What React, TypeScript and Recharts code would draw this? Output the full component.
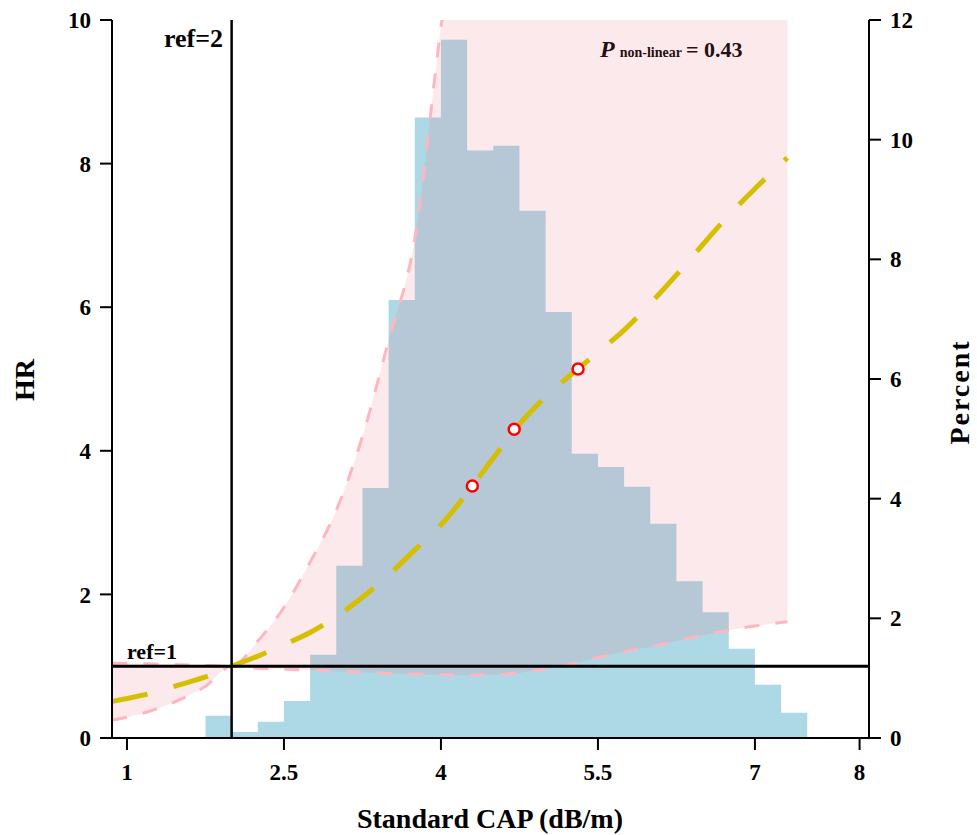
import React from "react";
import {
  Area,
  ComposedChart,
  Line,
  ReferenceLine,
  Scatter,
  XAxis,
  YAxis,
} from "recharts";

// histogram: bin edges (CAP) and percent per bin
const binEdges = [
  1.75, 2.0, 2.25, 2.5, 2.75, 3.0, 3.25, 3.5, 3.75, 4.0, 4.25, 4.5, 4.75, 5.0,
  5.25, 5.5, 5.75, 6.0, 6.25, 6.5, 6.75, 7.0, 7.25, 7.5,
];
const binPercent = [
  0.37, 0.1, 0.27, 0.62, 1.39, 2.88, 4.18, 7.32, 10.37, 11.67, 9.82, 9.9, 8.81,
  7.12, 4.75, 4.53, 4.2, 3.58, 2.62, 2.1, 1.49, 0.89, 0.42,
];

// spline fit with 95% CI
const curveX = [
  0.86, 1.0, 1.25, 1.5, 1.75, 2.0, 2.25, 2.5, 2.75, 3.0, 3.25, 3.5, 3.75, 4.0,
  4.25, 4.5, 4.75, 5.0, 5.25, 5.5, 5.75, 6.0, 6.25, 6.5, 6.75, 7.0, 7.31,
];
const hrFit = [
  0.51, 0.55, 0.63, 0.74, 0.85, 1.0, 1.14, 1.3, 1.47, 1.69, 1.96, 2.27, 2.62,
  2.97, 3.41, 3.9, 4.37, 4.75, 5.07, 5.37, 5.68, 6.05, 6.45, 6.87, 7.28, 7.65,
  8.08,
];
const hrLower = [
  0.25, 0.29, 0.39, 0.53, 0.72, 1.0, 0.97, 0.96, 0.945, 0.93, 0.915, 0.9, 0.89,
  0.88, 0.875, 0.88, 0.91, 0.96, 1.03, 1.12, 1.2, 1.27, 1.35, 1.43, 1.5, 1.56,
  1.62,
];
const hrUpper = [
  1.04, 1.04, 1.03, 1.02, 1.01, 1.0, 1.35, 1.82, 2.45, 3.17, 4.2, 5.54, 6.95,
  9.9, 12.5, 16, 19, 22, 25, 28, 31, 34, 37, 40, 43, 46, 50,
];

// knots
const knotX = [4.3, 4.7, 5.31];
const knotHR = [3.51, 4.3, 5.14];

const hrTicks = [0, 2, 4, 6, 8, 10];
const pctTicks = [0, 2, 4, 6, 8, 10, 12];
const capTicks = [1, 2.5, 4, 5.5, 7, 8];

const FONT = '"Liberation Serif", "Times New Roman", serif';

const histData = binEdges.map((x, i) => ({
  x,
  pct: binPercent[Math.min(i, binPercent.length - 1)],
}));
const curveData = curveX.map((x, i) => ({
  x,
  fit: hrFit[i],
  lo: hrLower[i],
  hi: hrUpper[i],
  band: [hrLower[i], hrUpper[i]],
}));
const knotData = knotX.map((x, i) => ({ x, hr: knotHR[i] }));

const tickStyle = { fontSize: 23, fontWeight: 700, fill: "#000", fontFamily: FONT };
const axisLine = { stroke: "#000", strokeWidth: 2 };

export default function App() {
  return (
    <div style={{ position: "absolute", left: 0, top: 0, background: "#fff" }}>
      <ComposedChart
        width={977}
        height={835}
        margin={{ top: 20, right: 0, bottom: 0, left: 0 }}
      >
        <XAxis
          dataKey="x"
          type="number"
          domain={[0.857, 8.09]}
          ticks={capTicks}
          allowDataOverflow
          height={97}
          tick={tickStyle}
          tickSize={12}
          tickMargin={14}
          axisLine={axisLine}
          tickLine={axisLine}
        />
        <YAxis
          yAxisId="hr"
          domain={[0, 10]}
          ticks={hrTicks}
          allowDataOverflow
          width={112}
          tick={tickStyle}
          tickSize={12}
          tickMargin={9}
          axisLine={axisLine}
          tickLine={axisLine}
        />
        <YAxis
          yAxisId="pct"
          orientation="right"
          domain={[0, 12]}
          ticks={pctTicks}
          width={108}
          tick={{ ...tickStyle, textAnchor: "start" }}
          tickSize={12}
          tickMargin={9}
          axisLine={axisLine}
          tickLine={axisLine}
        />

        <Area
          yAxisId="pct"
          data={histData}
          dataKey="pct"
          type="stepAfter"
          fill="#ADD8E6"
          fillOpacity={1}
          stroke="none"
          isAnimationActive={false}
        />
        <Area
          yAxisId="hr"
          data={curveData}
          dataKey="band"
          type="monotone"
          fill="#EB6C7A"
          fillOpacity={0.15}
          stroke="none"
          isAnimationActive={false}
        />
        <Line
          yAxisId="hr"
          data={curveData}
          dataKey="lo"
          type="monotone"
          stroke="#FFB6C1"
          strokeWidth={3}
          strokeDasharray="15 16"
          dot={false}
          isAnimationActive={false}
        />
        <Line
          yAxisId="hr"
          data={curveData}
          dataKey="hi"
          type="monotone"
          stroke="#FFB6C1"
          strokeWidth={3}
          strokeDasharray="15 16"
          dot={false}
          isAnimationActive={false}
        />
        <Line
          yAxisId="hr"
          data={curveData}
          dataKey="fit"
          type="monotone"
          stroke="#D6BE00"
          strokeWidth={5}
          strokeDasharray="36 27"
          dot={false}
          isAnimationActive={false}
        />
        <ReferenceLine yAxisId="hr" y={1} stroke="#000" strokeWidth={3} />
        <ReferenceLine yAxisId="hr" x={2} stroke="#000" strokeWidth={2.5} />
        <Scatter
          yAxisId="hr"
          data={knotData}
          dataKey="hr"
          isAnimationActive={false}
          shape={(p: any) => (
            <circle cx={p.cx} cy={p.cy} r={5.5} fill="#fff" stroke="#FF0000" strokeWidth={2.5} />
          )}
        />

        <text x={223} y={47} textAnchor="end" fontFamily={FONT} fontWeight={700} fontSize={26}>
          ref=2
        </text>
        <text x={127} y={659} fontFamily={FONT} fontWeight={700} fontSize={22}>
          ref=1
        </text>
        <text x={600} y={57} fontFamily={FONT} fontWeight={700} fontSize={22}>
          <tspan fontStyle="italic" fontSize={24}>P</tspan>
          <tspan fontSize={14} dx={5}>non-linear</tspan>
          <tspan fontSize={22} dx={4}>= 0.43</tspan>
        </text>
        <text
          x={490}
          y={828}
          textAnchor="middle"
          fontFamily={FONT}
          fontWeight={700}
          fontSize={28}
        >
          Standard CAP (dB/m)
        </text>
        <text
          transform="translate(34 380) rotate(-90)"
          textAnchor="middle"
          fontFamily={FONT}
          fontWeight={700}
          fontSize={28}
        >
          HR
        </text>
        <text
          transform="translate(969 392) rotate(-90)"
          textAnchor="middle"
          fontFamily={FONT}
          fontWeight={700}
          fontSize={28}
          letterSpacing={2}
        >
          Percent
        </text>
      </ComposedChart>
    </div>
  );
}
